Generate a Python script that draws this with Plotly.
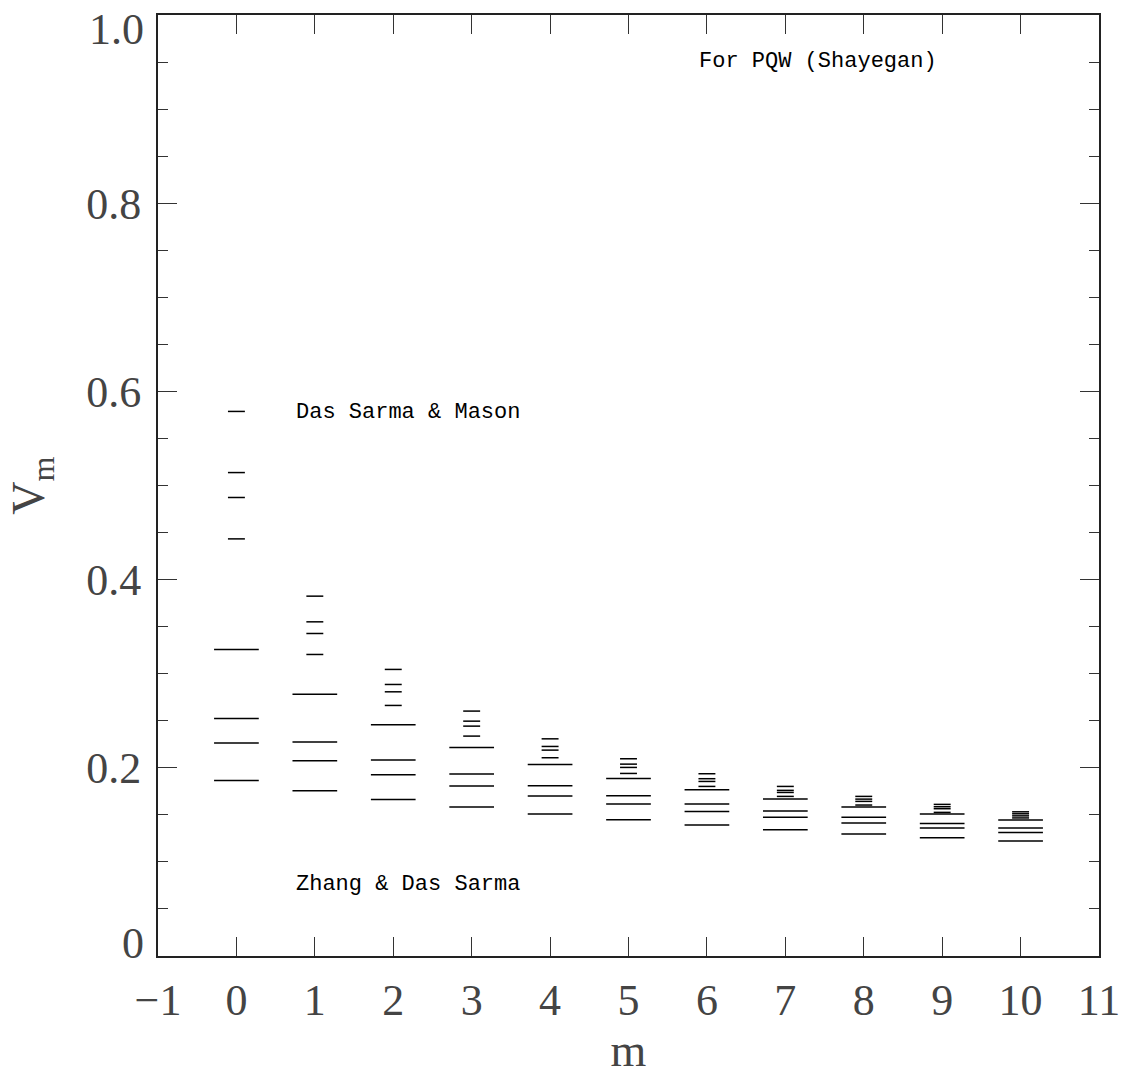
import plotly.graph_objects as go

# m values
m_values = [0, 1, 2, 3, 4, 5, 6, 7, 8, 9, 10]

# Das Sarma & Mason (short dashes), 4 levels per m
das_sarma_mason = [
    [0.579, 0.514, 0.4875, 0.4435],
    [0.3826, 0.3553, 0.3429, 0.3206],
    [0.3047, 0.2887, 0.2809, 0.2664],
    [0.2604, 0.2497, 0.2444, 0.2338],
    [0.2309, 0.2228, 0.2189, 0.2108],
    [0.2097, 0.2040, 0.2005, 0.1941],
    [0.1938, 0.1885, 0.1856, 0.1803],
    [0.1803, 0.1761, 0.1739, 0.1697],
    [0.1697, 0.1668, 0.1644, 0.1605],
    [0.1612, 0.1587, 0.1566, 0.1527],
    [0.1533, 0.1512, 0.1490, 0.1468],
]

# Zhang & Das Sarma (long lines), 4 levels per m
zhang_das_sarma = [
    [0.326, 0.2526, 0.2264, 0.1867],
    [0.2784, 0.2274, 0.2076, 0.1757],
    [0.2458, 0.2083, 0.1927, 0.1665],
    [0.2218, 0.1934, 0.1807, 0.1583],
    [0.2037, 0.1810, 0.1700, 0.1509],
    [0.1888, 0.1704, 0.1615, 0.1449],
    [0.1768, 0.1615, 0.1537, 0.1392],
    [0.1668, 0.1541, 0.1474, 0.1342],
    [0.1583, 0.1474, 0.1413, 0.1296],
    [0.1509, 0.1410, 0.1360, 0.1257],
    [0.1445, 0.1360, 0.1314, 0.1222],
]

x_tick_vals = list(range(-1, 12))
y_tick_vals = [0, 0.2, 0.4, 0.6, 0.8, 1.0]
y_tick_text = ["0", "0.2", "0.4", "0.6", "0.8", "1.0"]

SHORT_HALF = 0.108
LONG_HALF = 0.285


def segments(ms, levels, half):
    xs, ys = [], []
    for m, vals in zip(ms, levels):
        for v in vals:
            xs += [m - half, m + half, None]
            ys += [v, v, None]
    return xs, ys


fig = go.Figure()
xs, ys = segments(m_values, das_sarma_mason, SHORT_HALF)
fig.add_trace(go.Scatter(x=xs, y=ys, mode="lines", line=dict(color="black", width=1.5),
                         hoverinfo="skip", showlegend=False))
xs, ys = segments(m_values, zhang_das_sarma, LONG_HALF)
fig.add_trace(go.Scatter(x=xs, y=ys, mode="lines", line=dict(color="black", width=1.5),
                         hoverinfo="skip", showlegend=False))

tick_font = dict(family="Liberation Serif", size=44, color="#444")
ann_font = dict(family="Liberation Mono", size=22, color="black")

fig.add_annotation(x=0.735, y=0.578, text="Das Sarma & Mason", showarrow=False,
                   xanchor="left", yanchor="middle", font=ann_font)
fig.add_annotation(x=0.735, y=0.0765, text="Zhang & Das Sarma", showarrow=False,
                   xanchor="left", yanchor="middle", font=ann_font)
fig.add_annotation(x=5.875, y=0.951, text="For PQW (Shayegan)", showarrow=False,
                   xanchor="left", yanchor="middle", font=ann_font)

# End tick labels of the y axis are kept inside the axis extent (as in the original)
inner_labels = [y_tick_text[0], y_tick_text[-1]]
fig.add_annotation(xref="paper", yref="paper", x=0, y=1, xshift=-12, yshift=12,
                   text=inner_labels[1], showarrow=False, xanchor="right", yanchor="top",
                   font=tick_font)
fig.add_annotation(xref="paper", yref="paper", x=0, y=0, xshift=-12, yshift=-14,
                   text=inner_labels[0], showarrow=False, xanchor="right", yanchor="bottom",
                   font=tick_font)
axis_text = [""] + y_tick_text[1:-1] + [""]

fig.update_layout(
    width=1125, height=1076,
    margin=dict(l=158, r=26, t=15, b=120),
    paper_bgcolor="white", plot_bgcolor="white",
    showlegend=False,
)
fig.update_xaxes(
    range=[-1, 11], tickvals=x_tick_vals,
    ticktext=["\u22121"] + [str(v) for v in x_tick_vals[1:]],
    ticks="inside", ticklen=19, tickwidth=1.3, tickcolor="#333",
    showline=True, linecolor="#222", linewidth=2, mirror="allticks",
    showgrid=False, zeroline=False, tickfont=tick_font, ticklabelstandoff=4,
    ticklabeloverflow="allow", automargin=False,
    title=dict(text="m", font=dict(family="Liberation Serif", size=46, color="#444"), standoff=30),
)
fig.update_yaxes(
    range=[0, 1.0005], tickvals=y_tick_vals, ticktext=axis_text,
    ticks="inside", ticklen=19, tickwidth=1.3, tickcolor="#333",
    minor=dict(dtick=0.05, ticks="inside", ticklen=10, tickwidth=1.3, tickcolor="#333", showgrid=False),
    showline=True, linecolor="#222", linewidth=2, mirror="allticks",
    showgrid=False, zeroline=False, tickfont=tick_font, ticklabelstandoff=6,
    ticklabeloverflow="allow", automargin=False,
    title=dict(text="V<sub>m</sub>", font=dict(family="Liberation Serif", size=46, color="#444"), standoff=27),
)

fig.write_html("out.html")
